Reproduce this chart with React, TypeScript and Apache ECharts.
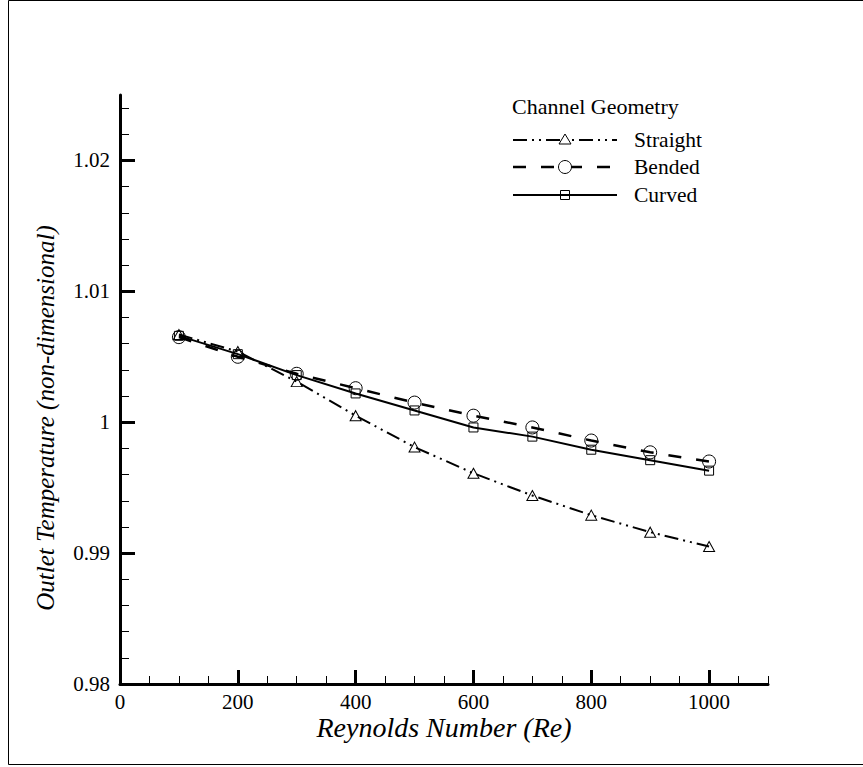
import React, { useEffect, useRef } from "react";
import * as echarts from "echarts";

const reynolds = [100, 200, 300, 400, 500, 600, 700, 800, 900, 1000];
const straight = [1.0067, 1.0054, 1.0031, 1.0005, 0.9981, 0.9961, 0.9944, 0.9929, 0.9916, 0.9905];
const bended = [1.0065, 1.005, 1.0037, 1.0026, 1.0015, 1.0005, 0.9996, 0.9986, 0.9977, 0.997];
const curved = [1.0066, 1.0052, 1.0036, 1.0022, 1.0009, 0.9996, 0.9989, 0.9979, 0.9971, 0.9963];

const xMajor = [0, 200, 400, 600, 800, 1000];
const xMinor = [50, 100, 150, 200, 250, 300, 350, 400, 450, 500, 550, 600, 650, 700, 750, 800, 850, 900, 950, 1000, 1050, 1100];
const yMajor = [0.98, 0.99, 1.0, 1.01, 1.02];
const yMinor = [0.982, 0.984, 0.986, 0.988, 0.99, 0.992, 0.994, 0.996, 0.998, 1.0, 1.002, 1.004, 1.006, 1.008, 1.01, 1.012, 1.014, 1.016, 1.018, 1.02, 1.022, 1.024];

const legendTitle = "Channel Geometry";
const seriesNames = ["Straight", "Bended", "Curved"];
const xTitle = "Reynolds Number (Re)";
const yTitle = "Outlet Temperature (non-dimensional)";

const FONT = "'Liberation Serif', 'Times New Roman', Times, serif";
const dashStraight = [14, 5, 2, 5, 2, 5];
const dashBended = [13, 15];

export default function App() {
  const ref = useRef<HTMLDivElement>(null);
  useEffect(() => {
    if (!ref.current) return;
    const chart = echarts.init(ref.current, null, { renderer: "svg" });
    const pair = (ys: number[]) => reynolds.map((x, i) => [x, ys[i]]);
    const hollow = { color: "rgba(255,255,255,0)", borderColor: "#000", borderWidth: 1 };
    const lx1 = 513, lx2 = 617, mx = 565;
    const rows = [140, 167, 195];
    const txt = (size: number, italic = false) => ({ fontFamily: FONT, fontSize: size, fontStyle: italic ? "italic" : "normal", fill: "#000" });
    chart.setOption({
      animation: false,
      backgroundColor: "#fff",
      grid: { left: 120, top: 95, right: 95, bottom: 83, containLabel: false },
      xAxis: [
        {
          type: "value", min: 0, max: 1100, position: "bottom",
          axisLine: { show: true, onZero: false, lineStyle: { color: "#000", width: 3 } },
          axisTick: { show: true, inside: true, length: 8, customValues: xMinor, lineStyle: { color: "#000", width: 1 } },
          axisLabel: { show: false },
          splitLine: { show: false },
        },
        {
          type: "value", min: 0, max: 1100, position: "bottom",
          axisLine: { show: false, onZero: false },
          axisTick: { show: true, inside: true, length: 14, customValues: xMajor, lineStyle: { color: "#000", width: 3 } },
          axisLabel: {
            show: true, customValues: xMajor, fontFamily: FONT, fontSize: 21, color: "#000", margin: 7,
            formatter: (v: number) => String(Math.round(v)),
          },
          splitLine: { show: false },
        },
      ],
      yAxis: [
        {
          type: "value", min: 0.98, max: 1.025, position: "left",
          axisLine: { show: true, onZero: false, lineStyle: { color: "#000", width: 3 } },
          axisTick: { show: true, inside: true, length: 9, customValues: yMinor, lineStyle: { color: "#000", width: 1 } },
          axisLabel: { show: false },
          splitLine: { show: false },
        },
        {
          type: "value", min: 0.98, max: 1.025, position: "left",
          axisLine: { show: false, onZero: false },
          axisTick: { show: true, inside: true, length: 15, customValues: yMajor, lineStyle: { color: "#000", width: 3 } },
          axisLabel: {
            show: true, customValues: yMajor, fontFamily: FONT, fontSize: 21, color: "#000", margin: 10,
            formatter: (v: number) => String(+v.toFixed(2)),
          },
          splitLine: { show: false },
        },
      ],
      series: [
        {
          name: seriesNames[0], type: "line", xAxisIndex: 0, yAxisIndex: 0, data: pair(straight),
          symbol: "triangle", symbolSize: [11, 10], itemStyle: hollow,
          lineStyle: { color: "#000", width: 2, type: dashStraight }, silent: true, z: 3,
        },
        {
          name: seriesNames[1], type: "line", xAxisIndex: 0, yAxisIndex: 0, data: pair(bended),
          symbol: "circle", symbolSize: 13, itemStyle: hollow,
          lineStyle: { color: "#000", width: 2.5, type: dashBended }, silent: true, z: 4,
        },
        {
          name: seriesNames[2], type: "line", xAxisIndex: 0, yAxisIndex: 0, data: pair(curved),
          symbol: "rect", symbolSize: 9, itemStyle: hollow,
          lineStyle: { color: "#000", width: 2, type: "solid" }, silent: true, z: 5,
        },
      ],
      graphic: [
        { type: "polyline", shape: { points: [[863, 0.5], [8.5, 0.5], [8.5, 764.5], [863, 764.5]] }, style: { fill: "none", stroke: "#000", lineWidth: 1 }, silent: true },
        { type: "text", x: 444, y: 727, style: { text: xTitle, ...txt(28, true), align: "center", verticalAlign: "middle" } },
        { type: "text", x: 45, y: 418, rotation: Math.PI / 2, style: { text: yTitle, ...txt(25, true), align: "center", verticalAlign: "middle" } },
        { type: "text", x: 512, y: 106, style: { text: legendTitle, ...txt(22), align: "left", verticalAlign: "middle" } },
        { type: "line", shape: { x1: lx1, y1: rows[0], x2: lx2, y2: rows[0] }, style: { stroke: "#000", lineWidth: 2, lineDash: dashStraight } },
        { type: "polygon", shape: { points: [[mx, rows[0] - 6], [mx - 6, rows[0] + 4], [mx + 6, rows[0] + 4]] }, style: { fill: "#fff", stroke: "#000", lineWidth: 1 } },
        { type: "text", x: 634, y: rows[0], style: { text: seriesNames[0], ...txt(21.5), verticalAlign: "middle" } },
        { type: "line", shape: { x1: lx1, y1: rows[1], x2: lx2, y2: rows[1] }, style: { stroke: "#000", lineWidth: 2.5, lineDash: dashBended } },
        { type: "circle", shape: { cx: mx, cy: rows[1], r: 6.5 }, style: { fill: "#fff", stroke: "#000", lineWidth: 1 } },
        { type: "text", x: 634, y: rows[1], style: { text: seriesNames[1], ...txt(21.5), verticalAlign: "middle" } },
        { type: "line", shape: { x1: lx1, y1: rows[2], x2: lx2, y2: rows[2] }, style: { stroke: "#000", lineWidth: 2 } },
        { type: "rect", shape: { x: mx - 4.5, y: rows[2] - 4.5, width: 9, height: 9 }, style: { fill: "none", stroke: "#000", lineWidth: 1 } },
        { type: "text", x: 634, y: rows[2], style: { text: seriesNames[2], ...txt(21.5), verticalAlign: "middle" } },
      ],
    });
    return () => chart.dispose();
  }, []);
  return (
    <div
      ref={ref}
      style={{ position: "absolute", left: 0, top: 0, width: 863, height: 767, background: "#fff" }}
    />
  );
}
